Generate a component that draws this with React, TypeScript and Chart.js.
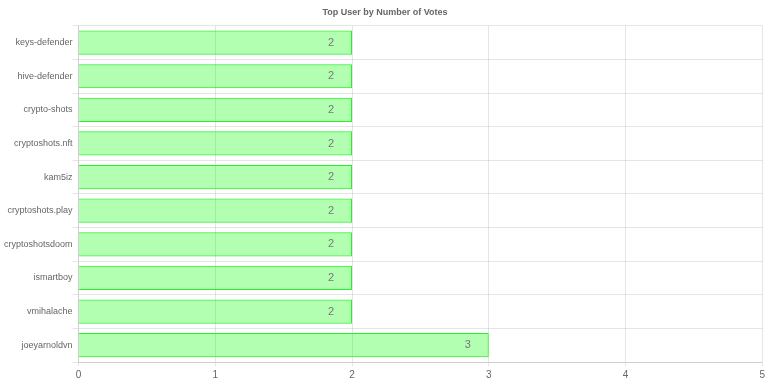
import React, { useEffect, useRef } from "react";
import { Chart, registerables } from "chart.js";

Chart.register(...registerables);

const categories: string[] = [
  "keys-defender",
  "hive-defender",
  "crypto-shots",
  "cryptoshots.nft",
  "kam5iz",
  "cryptoshots.play",
  "cryptoshotsdoom",
  "ismartboy",
  "vmihalache",
  "joeyarnoldvn",
];
const votes: number[] = [2, 2, 2, 2, 2, 2, 2, 2, 2, 3];
const titleText = "Top User by Number of Votes";

const FONT = "'Liberation Sans', Arial, sans-serif";

const valueLabels = {
  id: "valueLabels",
  afterDatasetsDraw(chart: any) {
    const ctx = chart.ctx;
    const meta = chart.getDatasetMeta(0);
    ctx.save();
    ctx.font = "11px " + FONT;
    ctx.fillStyle = "#777";
    ctx.textAlign = "center";
    ctx.textBaseline = "middle";
    meta.data.forEach((bar: any, i: number) => {
      const v = chart.data.datasets[0].data[i];
      ctx.fillText(String(v), bar.x - 21, bar.y);
    });
    ctx.restore();
  },
};

export default function App() {
  const ref = useRef<HTMLCanvasElement>(null);
  useEffect(() => {
    if (!ref.current) return;
    Chart.defaults.font.family = FONT;
    Chart.defaults.color = "#666";
    const chart = new Chart(ref.current, {
      type: "bar",
      data: {
        labels: categories,
        datasets: [
          {
            label: "Votes",
            data: votes,
            backgroundColor: "rgba(0,255,0,0.3)",
            borderColor: "rgba(40,240,40,1)",
            borderWidth: 1,
          },
        ],
      },
      options: {
        indexAxis: "y",
        animation: false,
        responsive: true,
        maintainAspectRatio: false,
        layout: { padding: { left: 4, right: 2, top: 0, bottom: 0 } },
        plugins: {
          legend: { display: false },
          tooltip: { enabled: false },
          title: {
            display: true,
            text: titleText,
            color: "#666",
            font: { size: 9, weight: "bold" },
            padding: { top: 7, bottom: 8 },
          },
        },
        scales: {
          x: {
            min: 0,
            max: 5,
            ticks: { stepSize: 1, color: "#666", font: { size: 10 }, padding: 3 },
            grid: { color: "rgba(0,0,0,0.1)", tickLength: 4 },
          },
          y: {
            ticks: { color: "#666", font: { size: 9 }, padding: 0 },
            grid: { color: "rgba(0,0,0,0.1)", tickLength: 6 },
          },
        },
      },
      plugins: [valueLabels],
    });
    return () => chart.destroy();
  }, []);
  return (
    <div style={{ position: "fixed", left: 0, top: 0, width: 768, height: 384, background: "#fff" }}>
      <canvas ref={ref} />
    </div>
  );
}
